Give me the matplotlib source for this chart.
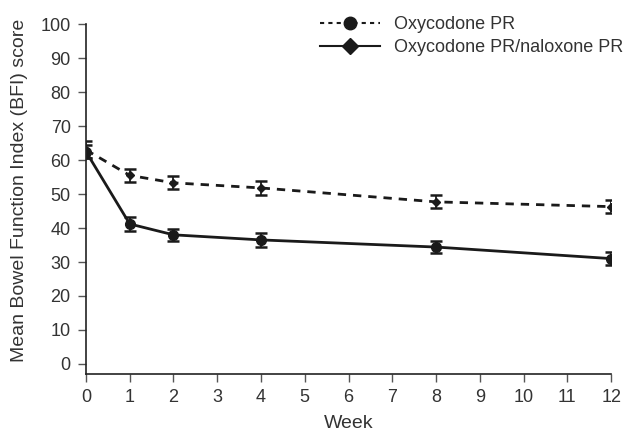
import numpy as np
import matplotlib
matplotlib.use("Agg")
import matplotlib.pyplot as plt
from matplotlib.lines import Line2D

plt.rcParams['font.family'] = ['Liberation Sans', 'DejaVu Sans']

weeks = [0, 1, 2, 4, 8, 12]
oxy_pr = [63.0, 55.5, 53.3, 51.8, 47.7, 46.3]
oxy_pr_err = [2.5, 1.9, 1.9, 2.0, 1.9, 2.0]
oxy_nal = [62.5, 41.2, 38.0, 36.5, 34.4, 31.0]
oxy_nal_err = [2.0, 2.0, 1.8, 2.0, 1.8, 1.8]

labels = ["Oxycodone PR", "Oxycodone PR/naloxone PR"]
col = "#1a1a1a"

fig = plt.figure(figsize=(6.32, 4.32), dpi=100)
ax = fig.add_axes([0.136, 0.134, 0.831, 0.81])

ax.errorbar(weeks, oxy_pr, yerr=oxy_pr_err, color=col, ls=(0, (3, 2.5)), lw=2,
            marker='D', ms=4.5, capsize=4, capthick=1.8, elinewidth=1.3)
ax.errorbar(weeks, oxy_nal, yerr=oxy_nal_err, color=col, ls='-', lw=2,
            marker='o', ms=7, capsize=4, capthick=1.8, elinewidth=1.3)

ax.set_xlim(0, 12)
ax.set_ylim(-3, 100)
ax.set_xticks(range(0, 13))
ax.set_yticks(range(0, 101, 10))
ax.spines['top'].set_visible(False)
ax.spines['right'].set_visible(False)
for s in ['left', 'bottom']:
    ax.spines[s].set_linewidth(1.2)
    ax.spines[s].set_color('#222222')
ax.tick_params(direction='out', length=6, width=1, colors='#555555',
               labelcolor='#333333', labelsize=13, pad=5)
ax.set_xlabel("Week", fontsize=14, color='#333333', labelpad=6)
ax.set_ylabel("Mean Bowel Function Index (BFI) score", fontsize=14,
              color='#333333')
ax.yaxis.set_label_coords(-0.11, 0.525)

handles = [
    Line2D([], [], color=col, ls=(0, (2, 2)), lw=1.5, marker='o', ms=9),
    Line2D([], [], color=col, ls='-', lw=1.5, marker='D', ms=8),
]
ax.legend(handles, labels, loc='upper left', bbox_to_anchor=(0.415, 1.07),
          frameon=False, fontsize=13, handlelength=3.3, handletextpad=0.8,
          labelspacing=0.35, labelcolor='#333333')

fig.savefig("out.png", dpi=100)
